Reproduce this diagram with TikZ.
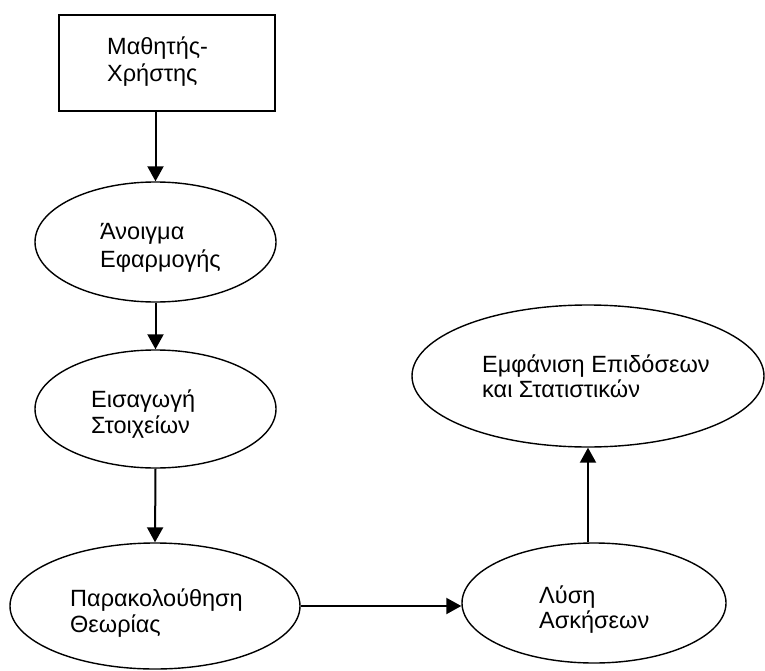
\documentclass[tikz,border=0pt]{standalone}
\usepackage{fontspec}
\setmainfont{Liberation Sans}
\usetikzlibrary{shapes.geometric,arrows.meta}
\begin{document}
\begin{tikzpicture}[x=1pt,y=-1pt,
  shapebox/.style={draw=black,line width=1.4pt,inner sep=0pt},
  oval/.style={shapebox,ellipse},
  lbl/.style={anchor=base west,inner sep=0pt,font=\fontsize{23.5}{27}\selectfont},
  flow/.style={line width=2pt,-{Triangle[width=16pt,length=15pt]}},
  plain/.style={line width=2pt}]
\useasboundingbox (0,0) rectangle (765,671);
% shapes
\node[shapebox,minimum width=216pt,minimum height=96pt] (user) at (167,63) {};
\node[oval,minimum width=241pt,minimum height=120pt] (open) at (155.5,242) {};
\node[oval,minimum width=241pt,minimum height=118pt] (input) at (155.5,409) {};
\node[oval,minimum width=290pt,minimum height=126pt] (theory) at (155,606) {};
\node[oval,minimum width=264pt,minimum height=120pt] (solve) at (594,603) {};
\node[oval,minimum width=352pt,minimum height=142pt] (stats) at (588,376) {};
% labels
\node[lbl] (userA) at (107,55) {Μαθητής-};
\node[lbl] (userB) at (107,82) {Χρήστης};
\node[lbl] (openA) at (100,239) {Άνοιγμα};
\node[lbl] (openB) at (100,267) {Εφαρμογής};
\node[lbl] (inputA) at (91,407) {Εισαγωγή};
\node[lbl] (inputB) at (91,433) {Στοιχείων};
\node[lbl] (theoryA) at (70,606) {Παρακολούθηση};
\node[lbl] (theoryB) at (70,632) {Θεωρίας};
\node[lbl] (solveA) at (539,603) {Λύση};
\node[lbl] (solveB) at (539,628) {Ασκήσεων};
\node[lbl] (statsA) at (482,372) {Εμφάνιση Επιδόσεων};
\node[lbl] (statsB) at (482,397) {και Στατιστικών};
% connectors
\draw[flow] (open.north |- user.south) -- (open.north);
\draw[flow] (open.south) -- (input.north);
\draw[flow] (input.south) -- (theory.north);
\coordinate (hjoin) at (solve.west |- theory.east);
\draw[flow] (theory.east) -- (hjoin);
\draw[flow] (stats.south |- solve.north) -- (stats.south);
\end{tikzpicture}
\end{document}
